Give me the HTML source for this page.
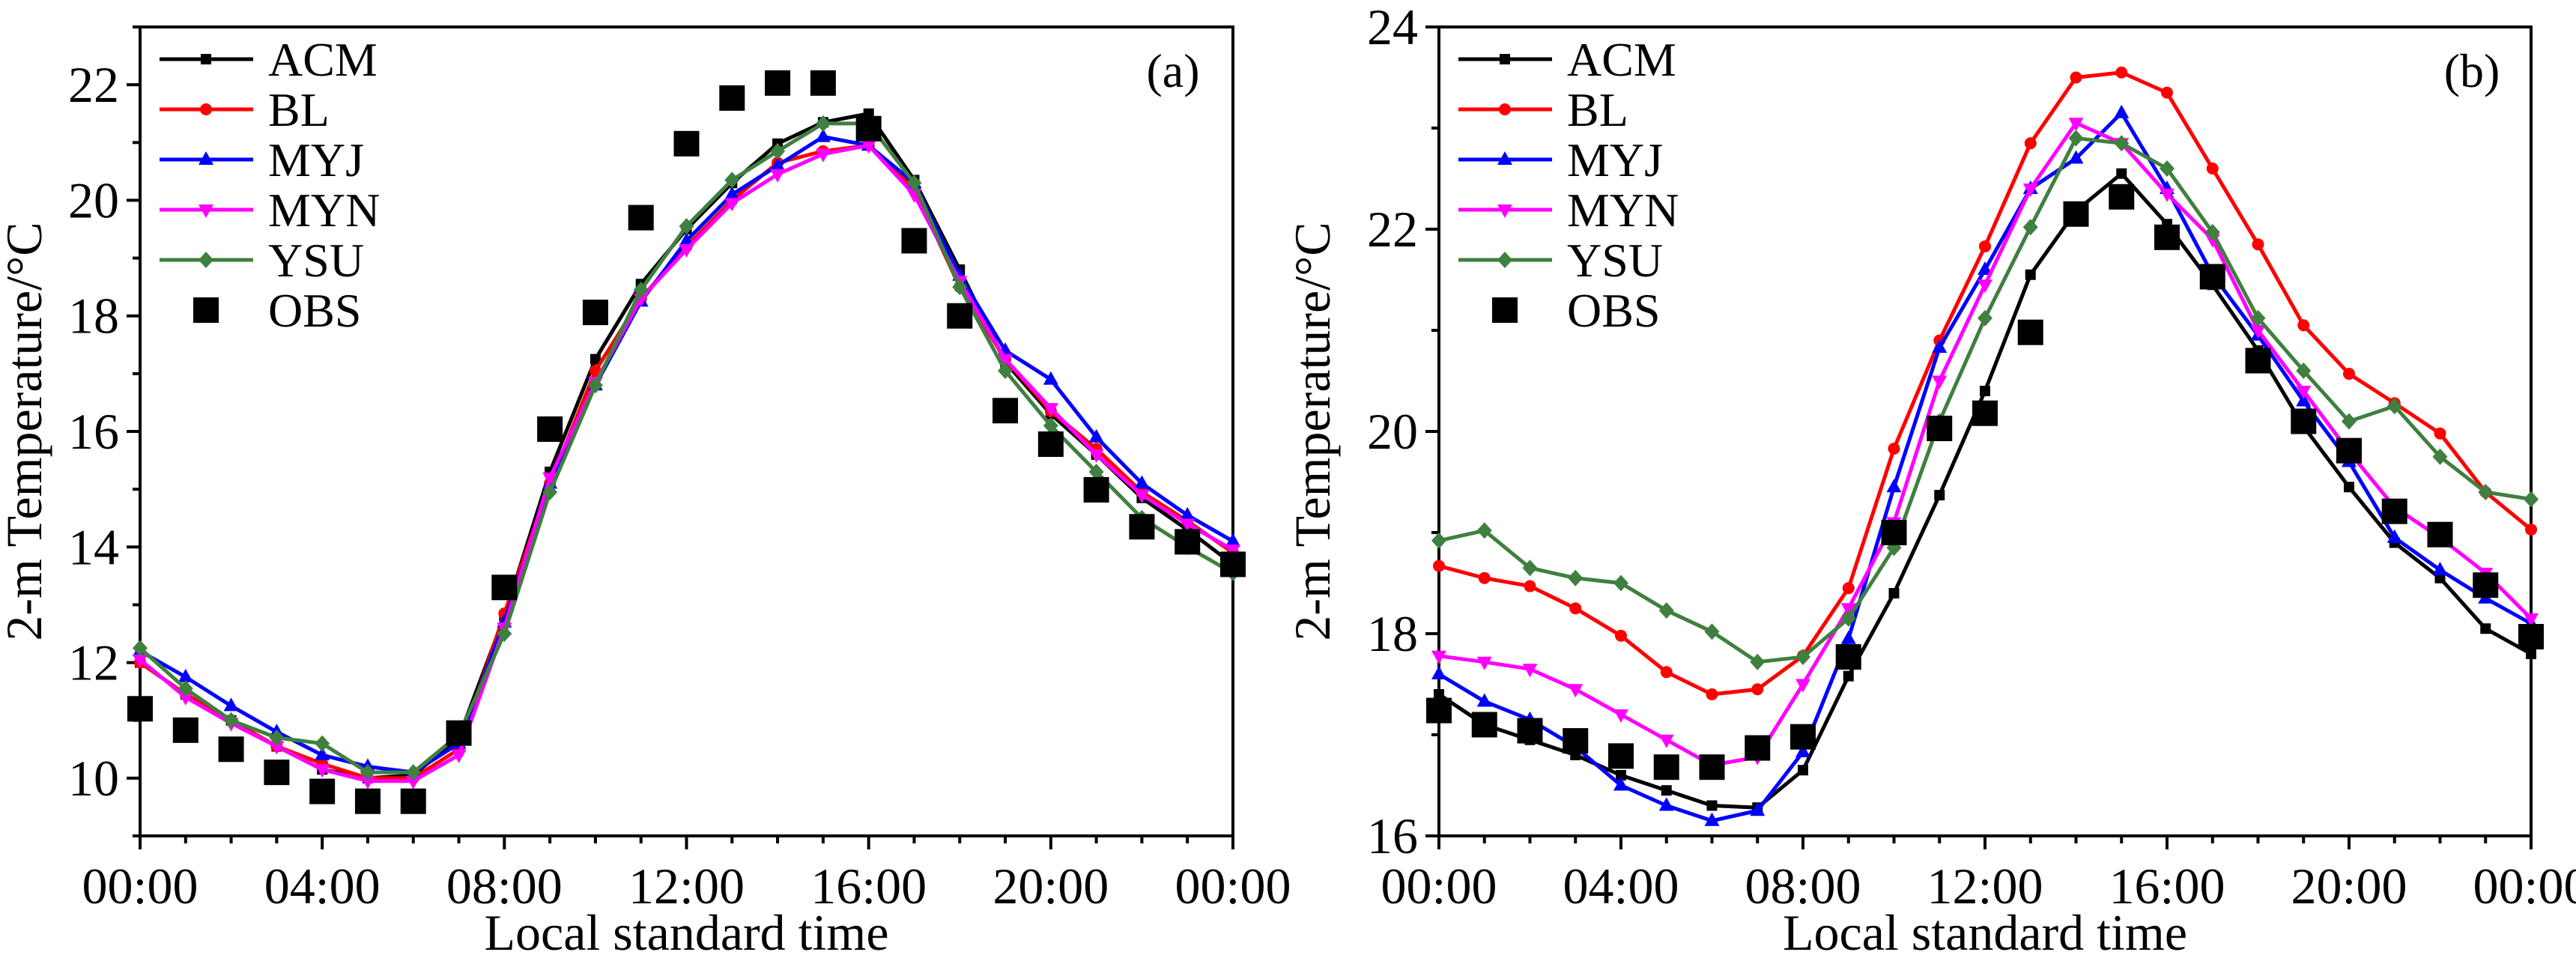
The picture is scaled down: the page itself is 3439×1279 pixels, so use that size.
<!DOCTYPE html>
<html><head><meta charset="utf-8"><style>
html,body{margin:0;padding:0;background:#fff;}
svg{display:block;}
svg text{font-family:"Liberation Serif","Times New Roman",serif;}
</style></head><body>
<svg id="chart" width="3439" height="1279" viewBox="0 0 3439 1279" xmlns="http://www.w3.org/2000/svg" font-family="Liberation Serif, serif"></svg>
<script>
const hours = [0,1,2,3,4,5,6,7,8,9,10,11,12,13,14,15,16,17,18,19,20,21,22,23,24];
const xTickLabels = ["00:00","04:00","08:00","12:00","16:00","20:00","00:00"];
const seriesNames = ["ACM","BL","MYJ","MYN","YSU"];
const seriesColors = ["#000000","#ff0000","#0000ff","#ff00ff","#3f7f3f"];
const seriesMarkers = ["square","circle","triangle","tridown","diamond"];
// Panel (a)
const aACM = [12.0,11.45,11.0,10.55,10.15,10.0,10.05,10.7,12.8,15.3,17.25,18.55,19.5,20.3,20.98,21.35,21.5,20.35,18.8,17.2,16.3,15.6,14.85,14.3,13.7];
const aBL  = [12.0,11.45,11.0,10.55,10.25,10.0,10.0,10.5,12.85,15.1,17.05,18.3,19.2,20.0,20.65,20.85,20.95,20.2,18.5,17.25,16.35,15.7,14.95,14.45,13.9];
const aMYJ = [12.2,11.75,11.25,10.8,10.4,10.2,10.1,10.6,12.7,15.1,16.8,18.25,19.3,20.1,20.6,21.1,20.95,20.3,18.7,17.4,16.9,15.9,15.1,14.55,14.1];
const aMYN = [12.05,11.4,10.95,10.55,10.15,9.95,9.95,10.4,12.6,15.2,16.85,18.3,19.15,19.95,20.45,20.8,20.95,20.1,18.6,17.25,16.4,15.6,14.9,14.4,13.95];
const aYSU = [12.25,11.55,11.0,10.7,10.6,10.1,10.1,10.75,12.5,14.95,16.8,18.45,19.55,20.35,20.85,21.33,21.33,20.3,18.5,17.05,16.1,15.3,14.5,14.0,13.55];
const aOBS = [11.2,10.83,10.5,10.1,9.77,9.6,9.6,10.78,13.3,16.04,18.06,19.7,20.98,21.77,22.03,22.03,21.24,19.3,18.0,16.36,15.78,14.99,14.35,14.09,13.7];
const aYTicks = [10,12,14,16,18,20,22];
// Panel (b)
const bACM = [17.4,17.1,16.95,16.8,16.6,16.45,16.3,16.28,16.65,17.58,18.4,19.37,20.4,21.55,22.18,22.55,22.05,21.45,20.8,20.05,19.45,18.9,18.55,18.05,17.8];
const bBL  = [18.67,18.55,18.47,18.25,17.98,17.62,17.4,17.45,17.78,18.45,19.83,20.9,21.83,22.85,23.5,23.55,23.35,22.6,21.85,21.05,20.57,20.28,19.98,19.4,19.03];
const bMYJ = [17.6,17.33,17.15,16.88,16.5,16.3,16.15,16.25,16.83,17.95,19.45,20.83,21.6,22.4,22.7,23.15,22.4,21.55,20.95,20.3,19.7,18.95,18.63,18.35,18.1];
const bMYN = [17.78,17.72,17.65,17.45,17.2,16.95,16.7,16.78,17.5,18.25,19.1,20.5,21.45,22.4,23.05,22.85,22.35,21.9,21.0,20.4,19.8,19.25,18.95,18.6,18.15];
const bYSU = [18.92,19.02,18.65,18.55,18.5,18.23,18.02,17.72,17.77,18.15,18.85,20.1,21.12,22.02,22.9,22.85,22.6,21.97,21.12,20.6,20.1,20.25,19.75,19.4,19.33];
const bOBS = [17.24,17.1,17.04,16.94,16.79,16.68,16.68,16.87,16.98,17.77,19.0,20.03,20.18,20.98,22.15,22.32,21.92,21.53,20.7,20.1,19.81,19.21,18.98,18.48,17.97];
const bYTicks = [16,18,20,22,24];

const NS="http://www.w3.org/2000/svg";
const svg=document.getElementById('chart');
const FONT='Liberation Serif, Times New Roman, serif';
function mk(tag,attrs,parent){const e=document.createElementNS(NS,tag);for(const k in attrs)e.setAttribute(k,attrs[k]);if(tag==='text')e.setAttribute('font-family',FONT);(parent||svg).appendChild(e);return e;}

function marker(g,type,cx,cy,color){
  let e;
  if(type==="square") e=mk('rect',{x:cx-7,y:cy-7,width:14,height:14,fill:color},g);
  else if(type==="circle") e=mk('circle',{cx:cx,cy:cy,r:8,fill:color},g);
  else if(type==="triangle") e=mk('polygon',{points:`${cx},${cy-11} ${cx-10},${cy+7} ${cx+10},${cy+7}`,fill:color},g);
  else if(type==="tridown") e=mk('polygon',{points:`${cx},${cy+11} ${cx-10},${cy-7} ${cx+10},${cy-7}`,fill:color},g);
  else if(type==="diamond") e=mk('polygon',{points:`${cx},${cy-11} ${cx+10},${cy} ${cx},${cy+11} ${cx-10},${cy}`,fill:color},g);
  else if(type==="obs") e=mk('rect',{x:cx-17,y:cy-17,width:34,height:34,fill:'#000'},g);
  
  
}

function panel(opt){
  const {L,R,T,B,ymin,ymax,yTicks,series,obs,label,id,titleX,labelX}=opt;
  const xs=h=>L+(R-L)*h/24;
  const ys=v=>B-(B-T)*(v-ymin)/(ymax-ymin);
  const g=mk('g',{});
  
  
  const frame=mk('rect',{x:L,y:T,width:R-L,height:B-T,fill:'none',stroke:'#000','stroke-width':4},g);
  
  
  for(let h=0;h<=24;h++){
    const major=h%4===0;
    const t=mk('line',{x1:xs(h),x2:xs(h),y1:B,y2:B+(major?18:10),stroke:'#000','stroke-width':4},g);
    
    
  }
  xTickLabels.forEach((s,i)=>{
    const t=mk('text',{x:xs(i*4),y:1206,'font-size':68,'text-anchor':'middle'},g);t.textContent=s;
    
    
  });
  for(let v=ymin;v<=ymax+1e-9;v+=1){
    const major=yTicks.includes(v);
    const t=mk('line',{x1:L,x2:L-(major?18:10),y1:ys(v),y2:ys(v),stroke:'#000','stroke-width':4},g);
    
    
  }
  yTicks.forEach(v=>{
    const t=mk('text',{x:L-28,y:ys(v)+23,'font-size':68,'text-anchor':'end'},g);t.textContent=v;
    
    
  });
  const xt=mk('text',{x:(L+R)/2,y:1268,'font-size':68,'text-anchor':'middle'},g);xt.textContent='Local standard time';
  
  
  const yt=mk('text',{x:0,y:0,'font-size':68,'text-anchor':'middle',transform:`translate(${titleX},${(T+B)/2}) rotate(-90)`},g);yt.textContent='2-m Temperature/°C';
  
  
  series.forEach((vals,si)=>{
    const sg=mk('g',{},g);
    
    
    const pl=mk('polyline',{points:vals.map((v,i)=>xs(hours[i])+','+ys(v)).join(' '),fill:'none',stroke:seriesColors[si],'stroke-width':5,'stroke-linejoin':'round'},sg);
    
    
    vals.forEach((v,i)=>marker(sg,seriesMarkers[si],xs(hours[i]),ys(v),seriesColors[si]));
  });
  const og=mk('g',{},g);
  
  
  obs.forEach((v,i)=>marker(og,'obs',xs(hours[i]),ys(v),'#000'));
  const lg=mk('g',{},g);
  
  
  const lx=L+26, ly0=T+43, step=67;
  seriesNames.forEach((n,si)=>{
    const y=ly0+si*step;
    const eg=mk('g',{},lg);
    
    
    mk('line',{x1:lx,x2:lx+125,y1:y,y2:y,stroke:seriesColors[si],'stroke-width':5},eg);
    marker(eg,seriesMarkers[si],lx+62,y,seriesColors[si]);
    const t=mk('text',{x:lx+145,y:y+22,'font-size':64},eg);t.textContent=n;
  });
  const y=ly0+5*step;
  const eg=mk('g',{},lg);
  
  
  marker(eg,'obs',lx+62,y,'#000');
  const t=mk('text',{x:lx+145,y:y+22,'font-size':64},eg);t.textContent='OBS';
  const pl=mk('text',{x:labelX,y:T+80,'font-size':64,'text-anchor':'middle'},g);pl.textContent=label;
  
  
}

panel({id:'panel-a',L:187,R:1646,T:36,B:1116,ymin:9,ymax:23,yTicks:aYTicks,series:[aACM,aBL,aMYJ,aMYN,aYSU],obs:aOBS,label:'(a)',titleX:55,labelX:1566});
panel({id:'panel-b',L:1921,R:3379,T:36,B:1116,ymin:16,ymax:24,yTicks:bYTicks,series:[bACM,bBL,bMYJ,bMYN,bYSU],obs:bOBS,label:'(b)',titleX:1775,labelX:3300});
</script>
</body></html>
